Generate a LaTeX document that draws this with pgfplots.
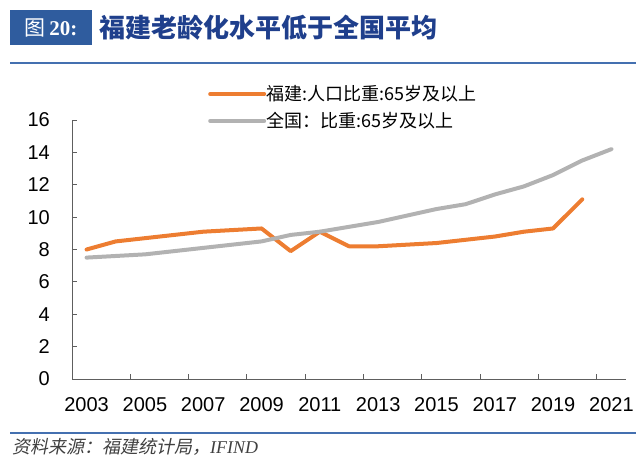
\documentclass[border=0pt]{standalone}
\usepackage{fontspec}
\setmainfont{Liberation Sans}
\newfontfamily\cjk{Noto Sans CJK SC}
\newfontfamily\cjkit[FakeSlant=0.2]{Noto Sans CJK SC}
\newfontfamily\seriffont{Liberation Serif}
\usepackage{pgfplots}
\pgfplotsset{compat=1.18}

\definecolor{fjorange}{HTML}{ED7D31}
\definecolor{cngray}{HTML}{B2B2B2}
\definecolor{titlebox}{HTML}{2F5C9E}
\definecolor{titletext}{HTML}{1F3F8C}
\definecolor{ruleblue}{HTML}{4470B0}
\definecolor{axisgray}{HTML}{5E5E5E}
\definecolor{notegray}{HTML}{404040}

% share of population aged 65+ (%)
\pgfplotstableread{
year fujian
2003 8.0
2004 8.5
2005 8.7
2006 8.9
2007 9.1
2008 9.2
2009 9.3
2010 7.9
2011 9.1
2012 8.2
2013 8.2
2014 8.3
2015 8.4
2016 8.6
2017 8.8
2018 9.1
2019 9.3
2020 11.1
}\fujian

\pgfplotstableread{
year china
2003 7.5
2004 7.6
2005 7.7
2006 7.9
2007 8.1
2008 8.3
2009 8.5
2010 8.9
2011 9.1
2012 9.4
2013 9.7
2014 10.1
2015 10.5
2016 10.8
2017 11.4
2018 11.9
2019 12.6
2020 13.5
2021 14.2
}\china

\begin{document}
\begin{tikzpicture}
\useasboundingbox (0,0) rectangle (640bp,-460bp);

% title bar
\fill[titlebox] (10bp,-10bp) rectangle (92bp,-45bp);
\node[anchor=center, text=white, inner sep=0pt] at (51bp,-28bp)
  {\fontsize{21bp}{24bp}\selectfont\cjk 图\,\seriffont\bfseries 20:};
\node[anchor=west, text=titletext, inner sep=0pt] at (99bp,-28bp)
  {\fontsize{26bp}{30bp}\selectfont\cjk\bfseries 福建老龄化水平低于全国平均};
\draw[ruleblue, line width=2bp] (10bp,-63bp) -- (636bp,-63bp);

% source note
\draw[ruleblue, line width=2bp] (10bp,-433bp) -- (636bp,-433bp);
\node[anchor=west, text=notegray, inner sep=0pt] at (12bp,-447bp)
  {\fontsize{18bp}{20bp}\selectfont\cjkit 资料来源：福建统计局，\seriffont\itshape IFIND};

\begin{axis}[
    at={(72bp,-379bp)}, anchor=south west,
    scale only axis,
    width=554bp, height=259bp,
    xmin=2002.5, xmax=2021.5,
    ymin=0, ymax=16,
    axis x line*=bottom, axis y line*=left,
    axis line style={axisgray, line width=1bp},
    xtick={2003,2005,...,2021},
    minor xtick={2004.5,2006.5,...,2020.5},
    ytick={0,2,...,16},
    tick align=inside,
    major tick length=5.5bp, minor tick length=5.5bp,
    major x tick style={draw=none},
    minor x tick style={axisgray, line width=1bp},
    ytick style={axisgray, line width=1bp},
    xticklabel={\pgfmathprintnumber[1000 sep={}]{\tick}},
    tick label style={font=\fontsize{20bp}{23bp}\selectfont, text=black},
    xticklabel style={anchor=north, inner sep=0pt, yshift=-18bp},
    yticklabel style={anchor=east, inner sep=0pt, xshift=-22bp},
    /pgf/number format/assume math mode=true,
    legend cell align=left,
    legend style={
        at={(axis description cs:0.2455,1.135)}, anchor=north west,
        draw=none, fill=none, inner sep=0pt,
        row sep=9bp,
        font=\fontsize{18bp}{21bp}\selectfont\cjk,
        nodes={inner sep=0.5bp},
    },
    legend image code/.code={\draw[#1] (0bp,0bp) -- (54bp,0bp);},
    clip=false,
]
\addplot[fjorange, line width=4bp, line join=round, line cap=round] table[x=year, y=fujian] {\fujian};
\addlegendentry{福建:人口比重:65岁及以上}
\addplot[cngray, line width=4bp, line join=round, line cap=round] table[x=year, y=china] {\china};
\addlegendentry{全国：比重:65岁及以上}
\end{axis}
\end{tikzpicture}
\end{document}
